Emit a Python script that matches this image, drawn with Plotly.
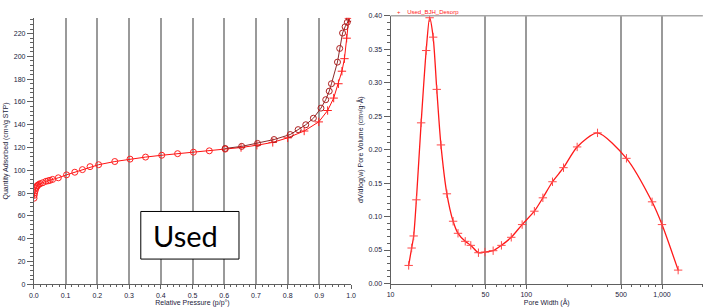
import plotly.graph_objects as go

# ---------------- data ----------------
ads_p = [0.0005, 0.001, 0.002, 0.004, 0.006, 0.008, 0.010, 0.012, 0.016, 0.020,
         0.028, 0.038, 0.045, 0.051, 0.059, 0.077, 0.103, 0.129, 0.153, 0.177,
         0.204, 0.255, 0.303, 0.352, 0.403, 0.453, 0.503, 0.553, 0.603, 0.653,
         0.703, 0.753, 0.800, 0.852, 0.898, 0.926, 0.945, 0.960, 0.971, 0.979,
         0.986, 0.993]
ads_v = [75.5, 78.0, 80.0, 82.0, 84.0, 85.2, 86.2, 86.9, 87.6, 88.3,
         89.1, 90.3, 90.8, 91.2, 92.0, 93.4, 96.0, 98.3, 100.6, 103.2,
         104.9, 107.7, 109.8, 111.6, 113.2, 114.6, 115.9, 117.1, 118.6, 120.0,
         122.0, 124.5, 128.5, 134.5, 142.5, 152.5, 163.4, 176.0, 187.0, 198.0,
         216.0, 233.5]

des_p = [0.995, 0.988, 0.981, 0.973, 0.964, 0.957, 0.938, 0.931, 0.920, 0.905,
         0.881, 0.857, 0.833, 0.808, 0.757, 0.705, 0.655, 0.603]
des_v = [233.0, 230.0, 226.0, 220.5, 207.0, 195.0, 176.0, 169.5, 162.0, 154.6,
         145.7, 140.0, 135.7, 131.4, 127.0, 123.6, 121.0, 119.2]

pore_w = [13.6, 14.3, 14.8, 15.5, 16.8, 18.3, 19.4, 20.6, 21.9, 23.5,
          26.0, 28.9, 31.4, 35.5, 39.0, 44.4, 49.6, 57.0, 65.6, 77.5,
          93.2, 114.7, 132.5, 156.0, 188.0, 237.0, 335.0, 547.0, 845.0, 1000.0,
          1315.0]
pore_v = [0.027, 0.053, 0.071, 0.125, 0.240, 0.348, 0.397, 0.368, 0.290, 0.207,
          0.134, 0.093, 0.075, 0.063, 0.057, 0.046, 0.047, 0.049, 0.057, 0.069,
          0.088, 0.108, 0.128, 0.152, 0.173, 0.204, 0.225, 0.187, 0.122, 0.088,
          0.020]

left_xticks = [0.0, 0.1, 0.2, 0.3, 0.4, 0.5, 0.6, 0.7, 0.8, 0.9, 1.0]
left_yticks = list(range(0, 240, 20))
right_xticks = [10, 50, 100, 500, 1000]
right_xlabels = ["10", "50", "100", "500", "1,000"]
right_yticks = [0.0, 0.05, 0.10, 0.15, 0.20, 0.25, 0.30, 0.35, 0.40]
right_xminor = [20, 30, 40, 60, 70, 80, 90, 200, 300, 400, 600, 700, 800, 900, 2000]

W, H = 719, 308
def px(x):
    return x / W
def py(y):
    return 1 - y / H

ads_sym = ["circle-open" if p <= 0.61 else "cross-thin-open" for p in ads_p]

fig = go.Figure()
fig.add_trace(go.Scatter(
    x=ads_p, y=ads_v, mode="lines+markers",
    line=dict(color="#ff1010", width=1),
    marker=dict(symbol=ads_sym, size=6, color="#ff2020", line=dict(color="#ff2020", width=1)),
    xaxis="x", yaxis="y", showlegend=False))
fig.add_trace(go.Scatter(
    x=des_p, y=des_v, mode="lines+markers",
    line=dict(color="#8a2a2a", width=1),
    marker=dict(symbol="circle-open", size=6, color="#b02020", line=dict(color="#b02020", width=1)),
    xaxis="x", yaxis="y", showlegend=False))
fig.add_trace(go.Scatter(
    x=pore_w, y=pore_v, mode="lines+markers",
    line=dict(color="#ff1a1a", width=1.3, shape="spline", smoothing=0.7),
    marker=dict(symbol="cross-thin-open", size=6, color="#ff4848", line=dict(color="#ff4848", width=1)),
    xaxis="x2", yaxis="y2", showlegend=False))

tickfont = dict(family="Liberation Sans, Arial", size=7, color="#1a1a3a")
titlefont = dict(family="Liberation Sans, Arial", size=7, color="#1a1a3a")
grid_c = "#9a9a9a"
axis_c = "#606060"

fig.update_layout(
    width=W, height=H,
    margin=dict(l=0, r=0, t=0, b=0),
    paper_bgcolor="white", plot_bgcolor="white",
    xaxis=dict(domain=[px(29.3), px(351)], range=[0, 1], anchor="y",
               tickvals=left_xticks, ticktext=[f"{v:.1f}" for v in left_xticks],
               showgrid=True, gridcolor=grid_c, gridwidth=1.5,
               showline=True, linecolor=axis_c, linewidth=1,
               ticks="outside", ticklen=4, tickcolor=axis_c, tickfont=tickfont,
               minor=dict(dtick=0.02, tick0=0, ticks="outside", ticklen=2, tickcolor=axis_c, showgrid=False),
               zeroline=False,
               title=dict(text="Relative Pressure (p/p°)", font=titlefont, standoff=2)),
    yaxis=dict(domain=[py(286.7), py(14)], range=[0, 234], anchor="x",
               tickvals=left_yticks, showgrid=False,
               showline=True, linecolor=axis_c, linewidth=1,
               ticks="outside", ticklen=6, tickcolor=axis_c, tickfont=tickfont,
               minor=dict(dtick=4, tick0=0, ticks="outside", ticklen=3, tickcolor=axis_c),
               zeroline=False,
               title=dict(text="Quantity Adsorbed (cm³/g STP)", font=titlefont, standoff=4)),
    xaxis2=dict(domain=[px(391), px(707.7)], type="log", range=[1, 3.301], anchor="y2",
                tickvals=right_xticks, ticktext=right_xlabels,
                showgrid=True, gridcolor=grid_c, gridwidth=1.5,
                showline=True, linecolor=axis_c, linewidth=1,
                ticks="outside", ticklen=4, tickcolor=axis_c, tickfont=tickfont,
                minor=dict(tickvals=right_xminor, ticks="outside", ticklen=2, tickcolor=axis_c, showgrid=False),
                zeroline=False,
                title=dict(text="Pore Width (Å)", font=titlefont, standoff=2)),
    yaxis2=dict(domain=[py(286), py(12)], range=[0, 0.40], anchor="x2",
                tickvals=right_yticks, ticktext=[f"{v:.2f}" for v in right_yticks],
                showgrid=False,
                showline=True, linecolor=axis_c, linewidth=1,
                ticks="outside", ticklen=6, tickcolor=axis_c, tickfont=tickfont,
                minor=dict(dtick=0.01, tick0=0, ticks="outside", ticklen=3, tickcolor=axis_c),
                zeroline=False,
                title=dict(text="dV/dlog(w) Pore Volume (cm³/g·Å)", font=titlefont, standoff=4)),
)

# top border of the right chart
fig.add_shape(type="line", xref="x2 domain", yref="y2 domain", x0=0, x1=1, y0=1, y1=1,
              line=dict(color="#a8a8a8", width=1.5))

# "Used" label box
fig.add_shape(type="rect", xref="paper", yref="paper",
              x0=px(137.7), x1=px(237.3), y0=py(261), y1=py(212.3),
              line=dict(color="black", width=1), fillcolor="white", layer="above")
fig.add_annotation(xref="paper", yref="paper", x=px(183), y=py(236.5),
                   text="Used", showarrow=False, xanchor="center", yanchor="middle",
                   font=dict(family="Lato, Open Sans", size=29, color="black"))

# small legend-like caption on the right chart
fig.add_annotation(xref="paper", yref="paper", x=px(396), y=py(8),
                   text="+    Used_BJH_Desorp", showarrow=False, xanchor="left", yanchor="middle",
                   font=dict(family="Liberation Sans, Arial", size=6, color="#ff2020"))

fig.write_html("out.html")
